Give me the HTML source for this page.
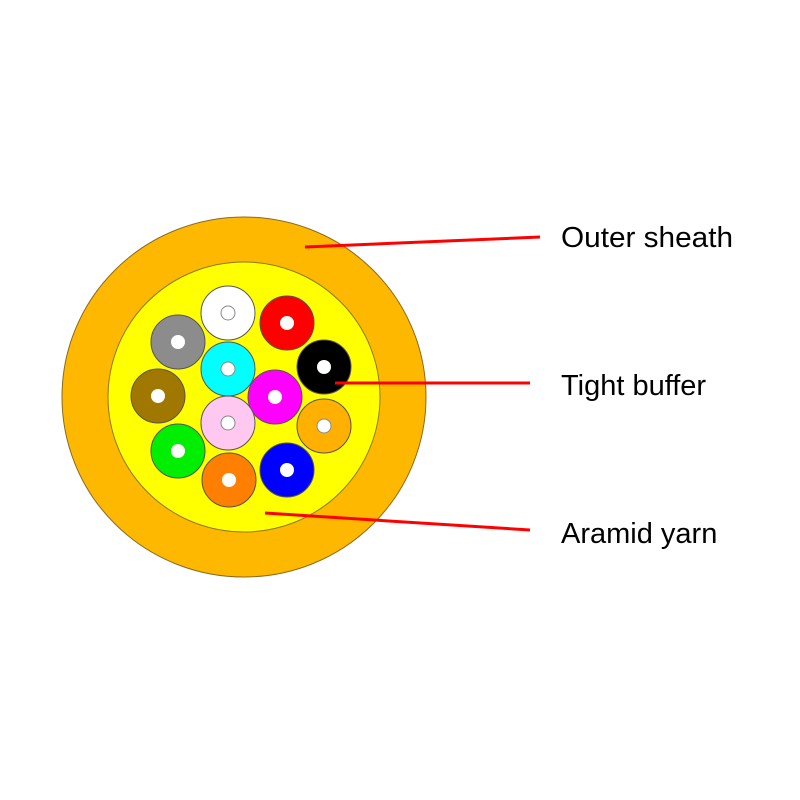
<!DOCTYPE html>
<html><head><style>body{margin:0;background:#fff}svg{display:block}</style></head><body>
<svg width="800" height="800" viewBox="0 0 800 800" xmlns="http://www.w3.org/2000/svg">
<ellipse cx="244" cy="397" rx="182" ry="180" fill="#ffb800" stroke="#8a6a20" stroke-width="1"/>
<ellipse cx="244" cy="397" rx="136" ry="135" fill="#ffff00" stroke="#8a7a20" stroke-width="1"/>
<g stroke="#555" stroke-width="1">
<circle cx="228" cy="313" r="27" fill="#ffffff"/>
<circle cx="287" cy="323" r="27" fill="#ff0000"/>
<circle cx="178" cy="342" r="27" fill="#8c8c8c"/>
<circle cx="324" cy="367" r="27" fill="#000000"/>
<circle cx="228" cy="369" r="27" fill="#00ffff"/>
<circle cx="158" cy="396" r="27" fill="#a07800"/>
<circle cx="275" cy="397" r="27" fill="#ff00ff"/>
<circle cx="324" cy="426" r="27" fill="#ffb000"/>
<circle cx="228" cy="423" r="27" fill="#ffc8f0"/>
<circle cx="178" cy="451" r="27" fill="#00ee00"/>
<circle cx="229" cy="480" r="27" fill="#ff8000"/>
<circle cx="287" cy="470" r="27" fill="#0000ff"/>
</g>
<g fill="#fff">
<circle cx="228" cy="313" r="7" stroke="#888"/>
<circle cx="287" cy="323" r="7"/>
<circle cx="178" cy="342" r="7"/>
<circle cx="324" cy="367" r="7"/>
<circle cx="228" cy="369" r="7" stroke="#888"/>
<circle cx="158" cy="396" r="7"/>
<circle cx="275" cy="397" r="7"/>
<circle cx="324" cy="426" r="7" stroke="#888"/>
<circle cx="228" cy="423" r="7" stroke="#888"/>
<circle cx="178" cy="451" r="7"/>
<circle cx="229" cy="480" r="7"/>
<circle cx="287" cy="470" r="7"/>
</g>
<g stroke="#ff0000" stroke-width="3">
<line x1="305" y1="247" x2="540" y2="237"/>
<line x1="335" y1="383" x2="530" y2="383"/>
<line x1="265" y1="513" x2="530" y2="530"/>
</g>
<g font-family="Liberation Sans, sans-serif" font-size="29" fill="#000">
<text x="561" y="247" textLength="172" lengthAdjust="spacingAndGlyphs">Outer sheath</text>
<text x="561" y="395">Tight buffer</text>
<text x="561" y="543">Aramid yarn</text>
</g>
</svg>
</body></html>
